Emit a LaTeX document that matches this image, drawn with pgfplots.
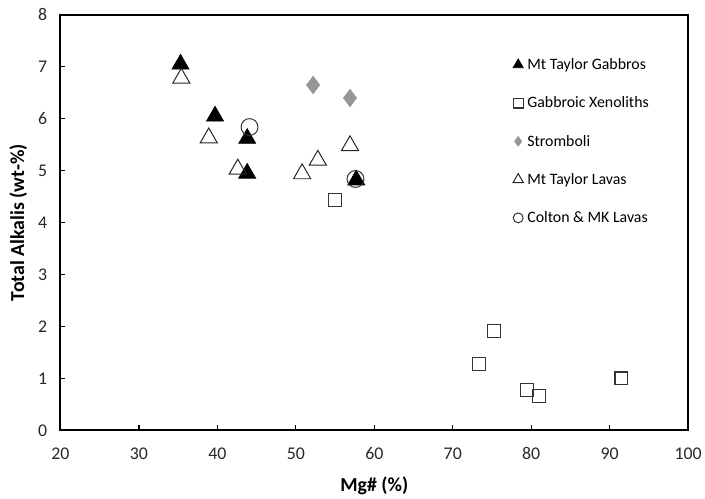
\documentclass[border=0pt]{standalone}
\usepackage{pgfplots}
\pgfplotsset{compat=1.18}
\usepackage{fontspec}
\setmainfont{Carlito}
\definecolor{strom}{RGB}{150,150,150}
\definecolor{tick}{RGB}{40,40,40}
\begin{document}
\begin{tikzpicture}
\begin{axis}[
  scale only axis,
  width=633pt, height=419pt,
  xmin=20, xmax=100, ymin=0, ymax=8,
  xtick={20,30,...,100}, ytick={0,1,...,8},
  axis line style={line width=2pt},
  tick style={line width=1.2pt, black},
  major tick length=5pt,
  tick align=inside,
  xtick pos=bottom, ytick pos=left,
  tick label style={font=\fontsize{18}{21}\selectfont, text=tick},
  xticklabel style={yshift=-14pt},
  yticklabel style={xshift=-10pt},
  /pgf/number format/assume math mode=true,
  xlabel={\textbf{Mg\# (\%)}},
  ylabel={\textbf{Total Alkalis (wt-\%)}},
  label style={font=\fontsize{20}{24}\selectfont},
  xlabel style={yshift=-10pt},
  ylabel style={yshift=4pt},
  legend style={at={(0.716,0.905)}, anchor=north west, draw=none, fill=none,
    font=\fontsize{16}{19}\selectfont, row sep=22pt,
    /tikz/every odd column/.append style={column sep=2pt}},
  legend cell align=left,
  legend image code/.code={\draw[#1] plot coordinates {(0pt,0pt)};},
]
% Mt Taylor Gabbros
\addplot[only marks, mark=triangle*, mark size=10pt, draw=black, fill=black,
  mark options={line width=0.6pt},
  legend image post style={mark size=6pt}]
coordinates {(35.3,7.05) (39.7,6.05) (43.8,5.62) (43.8,4.95) (57.7,4.82)};
% Gabbroic Xenoliths
\addplot[only marks, mark=square, mark size=6.5pt, draw=black!80,
  mark options={line width=1.1pt, fill=white},
  legend image post style={mark size=5pt}]
coordinates {(55.0,4.43) (75.3,1.92) (73.3,1.27) (79.5,0.77) (81.0,0.66) (91.5,1.0)};
% Stromboli
\addplot[only marks, mark=diamond*, mark size=9pt, draw=strom, fill=strom,
  legend image post style={mark size=5pt}]
coordinates {(52.2,6.65) (56.9,6.40)};
% Mt Taylor Lavas
\addplot[only marks, mark=triangle, mark size=10pt, draw=black!85,
  mark options={line width=1pt, fill=white},
  legend image post style={mark size=6pt}]
coordinates {(35.4,6.78) (38.9,5.63) (42.6,5.03) (50.8,4.94) (52.8,5.20) (56.9,5.48)};
% Colton & MK Lavas
\addplot[only marks, mark=o, mark size=8.5pt, draw=black!80,
  mark options={line width=1pt},
  legend image post style={mark size=5pt}]
coordinates {(44.1,5.84) (57.6,4.84)};
\legend{Mt Taylor Gabbros, Gabbroic Xenoliths, Stromboli, Mt Taylor Lavas, Colton \& MK Lavas}
\end{axis}
\path (current axis.south west) ++(-61pt,-65pt) rectangle ++(705pt,499pt);
\end{tikzpicture}
\end{document}
